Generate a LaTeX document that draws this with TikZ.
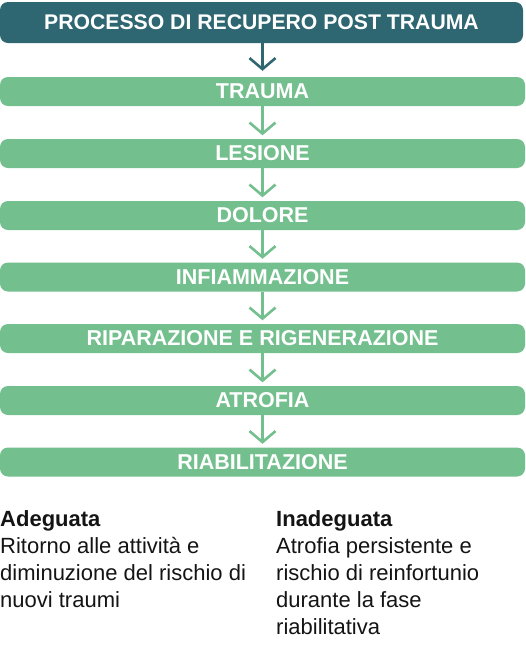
\documentclass[tikz,border=0pt]{standalone}
\usepackage{fontspec}
\setmainfont{Liberation Sans}
\usetikzlibrary{arrows.meta}
\definecolor{tealdark}{HTML}{2E6771}
\definecolor{grn}{HTML}{73BF8E}
\definecolor{ink}{HTML}{141414}
\begin{document}
\begin{tikzpicture}[x=1pt,y=-1pt,
  hdr/.style={fill=tealdark, rounded corners=8pt, minimum width=523pt, minimum height=41pt, inner sep=0pt, text=white, font=\fontsize{21.2}{25}\selectfont\bfseries},
  stepbox/.style={fill=grn, rounded corners=8pt, minimum width=525pt, minimum height=29pt, inner sep=0pt, text=white, font=\fontsize{21.5}{25}\selectfont\bfseries},
  flow/.style={line width=2.6pt, -{Straight Barb[length=11pt,width=26pt]}},
  body/.style={anchor=base west, inner sep=0pt, text=ink, font=\fontsize{22}{27}\selectfont}]
\useasboundingbox (0,0) rectangle (526,651);
\node[hdr] (h) at (261.5,22.5) {PROCESSO DI RECUPERO POST TRAUMA};
\node[stepbox] (s1) at (262.5,91.5) {TRAUMA};
\node[stepbox] (s2) at (262.5,153.5) {LESIONE};
\node[stepbox] (s3) at (262.5,215.5) {DOLORE};
\node[stepbox] (s4) at (262.5,277) {INFIAMMAZIONE};
\node[stepbox] (s5) at (262.5,338.5) {RIPARAZIONE E RIGENERAZIONE};
\node[stepbox] (s6) at (262.5,400.5) {ATROFIA};
\node[stepbox] (s7) at (262.5,462) {RIABILITAZIONE};
\draw[flow, tealdark] (s1.north |- h.south) -- ([yshift=6pt]s1.north);
\draw[flow, grn] (s1.south) -- ([yshift=3.5pt]s2.north);
\draw[flow, grn] (s2.south) -- ([yshift=3.5pt]s3.north);
\draw[flow, grn] (s3.south) -- ([yshift=3.5pt]s4.north);
\draw[flow, grn] (s4.south) -- ([yshift=3.5pt]s5.north);
\draw[flow, grn] (s5.south) -- ([yshift=3.5pt]s6.north);
\draw[flow, grn] (s6.south) -- ([yshift=3.5pt]s7.north);
\node[body] (a) at (0,526) {\vtop{\baselineskip=27pt\hbox{\textbf{Adeguata}}\hbox{Ritorno alle attività e}\hbox{diminuzione del rischio di}\hbox{nuovi traumi}}};
\node[body] (b) at (276,526) {\vtop{\baselineskip=27pt\hbox{\textbf{Inadeguata}}\hbox{Atrofia persistente e}\hbox{rischio di reinfortunio}\hbox{durante la fase}\hbox{riabilitativa}}};
\end{tikzpicture}
\end{document}
